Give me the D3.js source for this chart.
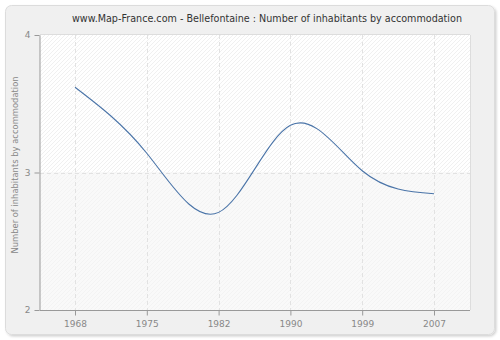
<!DOCTYPE html>
<html><head><meta charset="utf-8">
<script src="https://cdn.jsdelivr.net/npm/d3@7"></script>
<style>body{margin:0;background:#fff;}svg{display:block;font-family:"DejaVu Sans",Verdana,sans-serif;}</style>
</head><body><svg id="c" width="500" height="340"></svg>
<script>
const years = ["1968","1975","1982","1990","1999","2007"];
const values = [3.62, 3.14, 2.71, 3.343, 3.013, 2.846];
const yTicks = [2, 3, 4];
const title = "www.Map-France.com - Bellefontaine : Number of inhabitants by accommodation";
const yTitle = "Number of inhabitants by accommodation";

const svg = d3.select("#c");
const m = {l: 40, r: 470, t: 35, b: 310};

const defs = svg.append("defs");
const f = defs.append("filter").attr("id","sh").attr("x","-5%").attr("y","-5%").attr("width","110%").attr("height","110%");
f.append("feDropShadow").attr("dx",1.5).attr("dy",1.5).attr("stdDeviation",1.2).attr("flood-color","#000").attr("flood-opacity",0.18);

function hatch(id, bg, fg){
  const p = defs.append("pattern").attr("id", id).attr("patternUnits","userSpaceOnUse")
    .attr("width",4).attr("height",4);
  p.append("rect").attr("width",4).attr("height",4).attr("fill",bg);
  p.append("path").attr("d","M-1,1 l2,-2 M0,4 l4,-4 M3,5 l2,-2").attr("stroke",fg).attr("stroke-width",0.8);
}
hatch("h1","#ffffff","#ececec");
hatch("h2","#f9f9f9","#f1f1f1");

svg.append("rect").attr("x",5.5).attr("y",5.5).attr("width",489).attr("height",329).attr("rx",6)
  .attr("fill","#f0f0f0").attr("stroke","#dcdcdc").attr("filter","url(#sh)");

const x = d3.scalePoint().domain(years).range([75, 434]);
const y = d3.scaleLinear().domain([2, 4]).range([m.b, m.t]);

svg.append("rect").attr("x",m.l).attr("y",y(4)).attr("width",m.r-m.l).attr("height",y(3)-y(4)).attr("fill","url(#h1)");
svg.append("rect").attr("x",m.l).attr("y",y(3)).attr("width",m.r-m.l).attr("height",y(2)-y(3)).attr("fill","url(#h2)");

svg.append("line").attr("x1",m.l).attr("x2",m.r).attr("y1",m.t-0.5).attr("y2",m.t-0.5).attr("stroke","#dddddd");
svg.append("line").attr("x1",m.r+0.5).attr("x2",m.r+0.5).attr("y1",m.t).attr("y2",m.b).attr("stroke","#dddddd");

svg.append("g").selectAll("line").data(years).join("line")
  .attr("x1",d=>Math.round(x(d))+0.5).attr("x2",d=>Math.round(x(d))+0.5)
  .attr("y1",m.t).attr("y2",m.b).attr("stroke","#e2e2e2").attr("stroke-dasharray","4,3");
svg.append("g").selectAll("line").data(yTicks.filter(t=>t>2&&t<4)).join("line")
  .attr("x1",m.l).attr("x2",m.r).attr("y1",d=>Math.round(y(d))+0.5).attr("y2",d=>Math.round(y(d))+0.5)
  .attr("stroke","#e2e2e2").attr("stroke-dasharray","4,3");

const xa = svg.append("g").attr("transform",`translate(0,${m.b+0.5})`)
  .call(d3.axisBottom(x).tickSize(5).tickPadding(5).tickSizeOuter(0));
xa.select(".domain").attr("d",`M${m.l},0H${m.r}`);
const ya = svg.append("g").attr("transform",`translate(${m.l-0.5},0)`)
  .call(d3.axisLeft(y).tickValues(yTicks).tickFormat(d3.format("d")).tickSize(5).tickPadding(4).tickSizeOuter(0));
[xa, ya].forEach(a=>{
  a.select(".domain").attr("stroke","#999");
  a.selectAll(".tick line").attr("stroke","#999");
  a.selectAll(".tick text").attr("fill","#888").attr("font-size",9).attr("font-family","DejaVu Sans, sans-serif");
});

svg.append("path").datum(values)
  .attr("d", d3.line().x((d,i)=>x(years[i])).y(d=>y(d)).curve(d3.curveNatural))
  .attr("fill","none").attr("stroke","#4a74a8").attr("stroke-width",1.1);

svg.append("text").attr("x",267).attr("y",22).attr("text-anchor","middle")
  .attr("font-size",9.6).attr("fill","#333").text(title);
svg.append("text").attr("transform",`translate(18,165) rotate(-90)`).attr("text-anchor","middle")
  .attr("font-size",8.4).attr("fill","#888").text(yTitle);
</script></body></html>
